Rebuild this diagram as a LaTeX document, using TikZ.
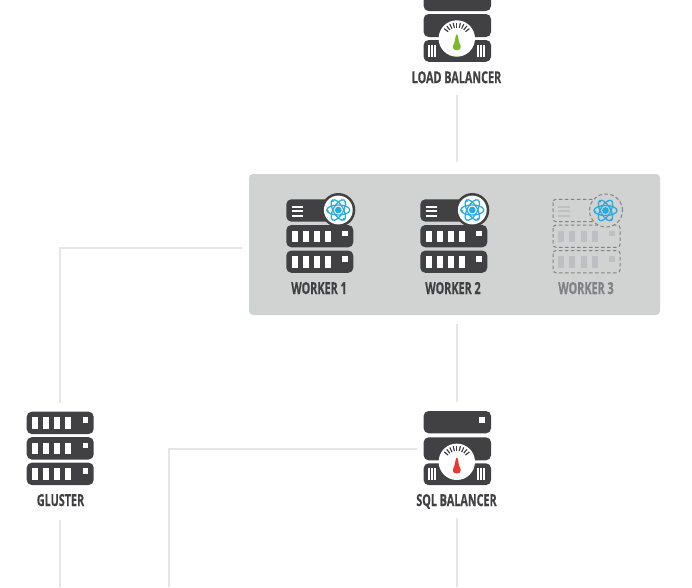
\documentclass[tikz,border=0pt]{standalone}
\usepackage{fontspec}
\newfontfamily\lblfont[FakeStretch=0.655,BoldFeatures={FakeBold=0.5}]{Open Sans}
\definecolor{ink}{HTML}{414042}
\definecolor{linkc}{HTML}{E6E6E6}
\definecolor{panelc}{HTML}{D1D3D2}
\definecolor{atomc}{HTML}{27AAE1}
\definecolor{ghostc}{HTML}{808285}
\definecolor{ghostf}{HTML}{BDBFC0}
\definecolor{greenc}{HTML}{7AB82E}
\definecolor{redc}{HTML}{E8392F}
\tikzset{
  link/.style={draw=linkc,line width=2.8pt},
  lbl/.style={font=\lblfont\bfseries\fontsize{16.5}{16.5}\selectfont,text=ink,inner sep=0pt,anchor=base},
  iconbox/.style={inner sep=0pt,minimum width=67pt},
  panelbox/.style={fill=panelc,rounded corners=4pt,inner sep=0pt,minimum width=411pt,minimum height=141pt},
  bar/.style={fill=ink,rounded corners=5pt},
  ghost/.style={draw=ghostc,line width=1pt,dash pattern=on 3.5pt off 2.5pt},
}
% server bar: x, y(top), fill of windows
\newcommand{\srvwin}[3]{%
  \foreach \i in {0,1,2,3}{\fill[#3] ({#1+5.3+11.1*\i},{#2+5.7}) rectangle ++(6,11.3);}
  \fill[#3] ({#1+56},{#2+5.7}) rectangle ++(5.5,5.5);}
\newcommand{\srvbar}[2]{%
  \fill[bar] (#1,#2) rectangle ++(67,22.3);
  \srvwin{#1}{#2}{white}}
\newcommand{\atomicon}[2]{%
  \begin{scope}[shift={(#1,#2)}]
    \foreach \a in {0,60,120}{\draw[atomc,line width=1.25pt,rotate=\a] (0,0) ellipse (11.5pt and 5pt);}
    \fill[atomc] (0,0) circle (3.4pt);
    \fill[atomc] (-5.5,-9) circle (1.2pt) (5.5,9) circle (1.2pt) (-10.5,1) circle (1.2pt);
  \end{scope}}
\newcommand{\workerico}[1]{% x of left edge
  \fill[bar] (#1,199.3) rectangle ++(67,22.3);
  \foreach \y in {206,210.3,214.5}{\fill[white] ({#1+5.3},\y) rectangle ++(11.7,2);}
  \srvbar{#1}{225}\srvbar{#1}{250.5}
  \fill[ink] ({#1+52},210) circle (17pt);
  \fill[white] ({#1+52},210) circle (14.4pt);
  \atomicon{#1+52}{210}}
\newcommand{\gaugeico}[3]{% x left, y top of body, drop colour
  \fill[bar] (#1,#2) rectangle ++(67.4,23);
  \fill[bar] (#1,{#2+26}) rectangle ++(67.4,21.8);
  \fill[white] ({#1+33.2},{#2+24.5}) circle (18.2pt);
  \foreach \d in {0,3,6}{
    \fill[white] ({#1+4.3+\d},{#2+30.5}) rectangle ++(1.8,12.5);
    \fill[white] ({#1+53.2+\d},{#2+30.5}) rectangle ++(1.8,12.5);}
  \foreach \a in {-52,-39,...,52}{
    \draw[ink,line width=1.2pt] ({#1+33.2+11*sin(\a)},{#2+24.5-11*cos(\a)}) -- ({#1+33.2+16*sin(\a)},{#2+24.5-16*cos(\a)});}
  \fill[#3] ({#1+33.2},{#2+20.3}) .. controls ({#1+34.6},{#2+20.3}) and ({#1+34.6},{#2+26}) .. ({#1+35.8},{#2+29})
     .. controls ({#1+38.3},{#2+33}) and ({#1+37},{#2+36.2}) .. ({#1+33.2},{#2+36.2})
     .. controls ({#1+29.4},{#2+36.2}) and ({#1+28.1},{#2+33}) .. ({#1+30.6},{#2+29})
     .. controls ({#1+31.8},{#2+26}) and ({#1+31.8},{#2+20.3}) .. ({#1+33.2},{#2+20.3}) -- cycle;}
\begin{document}
\begin{tikzpicture}[x=1pt,y=-1pt]
\useasboundingbox (0,0) rectangle (692,587);
\clip (0,0) rectangle (692,587);
% nodes
\node[panelbox] (panel) at (454.5,244.5) {};
\node[iconbox,minimum height=73pt] (sql) at (457,448.3) {};
\node[iconbox,minimum height=73pt] (gluster) at (60,448.3) {};
\node[lbl] (lblb) at (456.5,83.2) {LOAD BALANCER};
\node[lbl] (lw1) at (319,294) {WORKER 1};
\node[lbl] (lw2) at (453,294) {WORKER 2};
\node[lbl,text=ghostc] (lw3) at (586,294) {WORKER 3};
\node[lbl] (lgl) at (60.5,506) {GLUSTER};
\node[lbl] (lsql) at (456.5,506) {SQL BALANCER};
\coordinate (endA) at (60,587);
\coordinate (endB) at (169,587);
\coordinate (endC) at (457,587);
\coordinate (topA) at (457,95);
\coordinate (topB) at (457,162);
\coordinate (midA) at (457,324);
\coordinate (midB) at (457,402);
\coordinate (panelL) at (242,248);
\coordinate (glTop) at (60,403);
\coordinate (sqlL) at (417,449);
\coordinate (glBot) at (60,520);
\coordinate (sqlBot) at (457,518);
% connectors
\draw[link] (topA) -- (topB);
\draw[link] (midA) -- (midB);
\draw[link] (panelL) -| (glTop);
\draw[link] (sqlL) -| (endB);
\draw[link] (glBot) -- (endA);
\draw[link] (sqlBot) -- (endC);
% load balancer
\gaugeico{423.6}{14}{greenc}
\fill[bar] (423.6,-12) rectangle ++(67.4,23);
% workers
\workerico{286.3}
\workerico{420.3}
% worker 3
\begin{scope}
  \def\wx{553}
  \draw[ghost,rounded corners=3pt] (\wx,199.3) rectangle ++(67,22.3);
  \draw[ghost,rounded corners=3pt] (\wx,225) rectangle ++(67,22.3);
  \draw[ghost,rounded corners=3pt] (\wx,250.5) rectangle ++(67,22.3);
  \foreach \y in {206,210.3,214.5}{\fill[ghostf] ({\wx+5.3},\y) rectangle ++(11.7,2);}
  \srvwin{\wx}{225}{ghostf}
  \srvwin{\wx}{250.5}{ghostf}
  \fill[panelc] (606,210.5) circle (17pt);
  \draw[ghost] (606,210.5) circle (16.5pt);
  \atomicon{605.5}{210.5}
\end{scope}
% gluster
\srvbar{26.7}{411.7}\srvbar{26.7}{437.2}\srvbar{26.7}{462.7}
% sql balancer
\fill[bar] (423.6,411) rectangle ++(67.4,22.3);
\fill[white] (479,417) rectangle ++(5.7,5.7);
\gaugeico{423.6}{437.3}{redc}
\end{tikzpicture}
\end{document}
